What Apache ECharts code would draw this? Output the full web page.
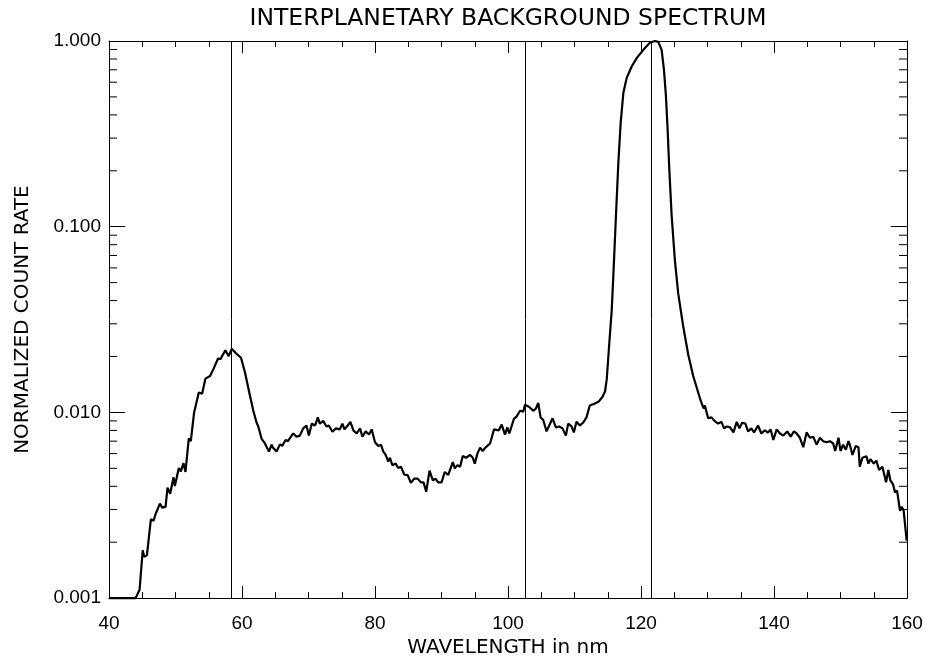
<!DOCTYPE html>
<html>
<head>
<meta charset="utf-8">
<script src="https://cdn.jsdelivr.net/npm/echarts@6/dist/echarts.min.js"></script>
<style>html,body{margin:0;padding:0;background:#fff;}#c{width:934px;height:663px;}</style>
</head>
<body>
<div id="c"></div>
<script>
var wavelength = [40.0,41.0,42.0,43.0,44.0,44.6,45.07,45.3,45.7,46.3,46.7,47.0,47.3,47.65,48.0,48.5,48.8,49.2,49.7,49.9,50.5,50.8,51.2,51.5,52.0,52.3,52.8,53.5,54.0,54.5,55.2,55.7,56.4,56.8,57.0,57.5,58.0,58.45,59.05,59.85,60.45,61.2,61.7,62.2,62.45,62.95,63.35,64.05,64.45,64.6,65.2,65.7,66.05,66.55,66.9,67.7,68.2,68.7,69.2,69.7,70.05,70.5,71.0,71.4,71.7,72.2,72.7,73.05,73.6,74.1,74.7,75.1,75.4,75.9,76.3,76.75,77.25,77.75,78.1,78.6,79.1,79.5,80.0,80.5,80.9,81.25,81.6,82.0,82.25,82.6,83.1,83.5,83.9,84.4,84.9,85.4,85.9,86.4,86.9,87.3,87.7,88.2,88.7,89.1,89.5,90.0,90.5,91.0,91.7,92.0,92.4,92.8,93.2,93.7,94.3,94.7,95.0,95.4,95.8,96.2,96.6,97.3,97.9,98.6,99.05,99.55,99.9,100.2,100.9,101.3,101.8,102.3,102.55,103.2,103.8,104.2,104.55,104.9,105.3,105.8,106.2,106.7,107.2,107.7,108.2,108.7,109.05,109.55,109.9,110.3,110.8,111.3,111.8,112.3,112.9,113.6,114.2,114.6,114.85,115.2,115.6,115.94,116.24,116.6,116.95,117.35,117.85,118.6,119.35,120.35,121.35,122.1,122.6,123.1,123.45,123.75,124.0,124.25,124.6,125.1,125.6,126.35,127.1,127.85,128.6,128.9,129.4,129.6,130.1,130.6,131.05,131.6,132.1,132.5,132.9,133.4,133.9,134.4,134.8,135.2,135.7,136.1,136.6,137.0,137.6,138.1,138.6,139.1,139.5,139.9,140.4,140.9,141.4,142.0,142.5,143.0,143.4,143.9,144.4,144.9,145.4,145.9,146.4,146.9,147.4,147.9,148.4,148.9,149.2,149.7,150.0,150.4,150.8,151.2,151.4,151.8,152.3,152.7,152.9,153.3,153.9,154.2,154.5,155.0,155.4,155.8,156.3,156.85,157.2,157.5,157.9,158.2,158.5,158.95,159.2,159.5,159.95];
var countRate = [0.001,0.001,0.001,0.001,0.001,0.00111,0.00181,0.00167,0.00170,0.00266,0.00261,0.00283,0.00278,0.00323,0.00307,0.00310,0.00393,0.00365,0.00447,0.00401,0.00502,0.00481,0.00533,0.00478,0.00724,0.00701,0.0100,0.0128,0.0126,0.0152,0.0157,0.0171,0.0195,0.0194,0.0201,0.0216,0.0201,0.0220,0.0209,0.0197,0.0164,0.0123,0.0102,0.0088,0.0084,0.0072,0.0069,0.00615,0.0067,0.0065,0.00615,0.00673,0.0066,0.0071,0.0070,0.0077,0.0074,0.0075,0.0082,0.0085,0.0075,0.0087,0.0085,0.0094,0.0087,0.0090,0.0084,0.0085,0.00786,0.0082,0.0081,0.0087,0.0081,0.0085,0.0089,0.0080,0.0077,0.0082,0.0074,0.0079,0.0076,0.0081,0.0069,0.0066,0.0067,0.00615,0.0059,0.00544,0.0057,0.0052,0.0053,0.00502,0.0051,0.00462,0.0046,0.00417,0.0044,0.0044,0.0042,0.0042,0.00374,0.00486,0.0043,0.0044,0.0042,0.0042,0.00478,0.0046,0.0054,0.0050,0.0052,0.0051,0.00583,0.0057,0.0059,0.0057,0.0053,0.0060,0.00646,0.0062,0.00646,0.0068,0.0081,0.0080,0.0086,0.0076,0.0083,0.0077,0.00925,0.0095,0.0102,0.0101,0.0110,0.0107,0.0102,0.0105,0.01126,0.0094,0.0091,0.0079,0.0085,0.0093,0.0083,0.0084,0.0082,0.0075,0.0087,0.0084,0.0078,0.0089,0.0085,0.0088,0.0094,0.0109,0.0111,0.0114,0.0121,0.0130,0.0151,0.0227,0.0356,0.0657,0.116,0.223,0.365,0.527,0.633,0.729,0.809,0.896,0.98,1.0,0.99,0.896,0.701,0.506,0.336,0.206,0.116,0.0657,0.0436,0.029,0.0205,0.0157,0.0128,0.0118,0.0105,0.0109,0.0093,0.0094,0.0090,0.0087,0.0089,0.0082,0.0084,0.0083,0.0078,0.0089,0.0082,0.0088,0.0087,0.0079,0.0082,0.0078,0.0085,0.0077,0.0080,0.0078,0.0081,0.0071,0.0081,0.0077,0.0075,0.0079,0.0074,0.0079,0.0077,0.0073,0.0065,0.0078,0.0073,0.0074,0.0067,0.0073,0.0070,0.0069,0.0070,0.0068,0.0062,0.0073,0.0062,0.0067,0.0063,0.0070,0.0067,0.0059,0.0066,0.0065,0.0051,0.0057,0.0058,0.0053,0.0056,0.0053,0.0055,0.0049,0.0051,0.0042,0.0049,0.0043,0.0041,0.0037,0.0038,0.00295,0.0031,0.00295,0.00204];
var lineMarks = [58.4, 102.6, 121.6];
var xTickValues = [40, 60, 80, 100, 120, 140, 160];
var yTickLabels = ['0.001', '0.010', '0.100', '1.000'];
var yMinorTicks = [0.002,0.003,0.004,0.005,0.006,0.007,0.008,0.009,0.02,0.03,0.04,0.05,0.06,0.07,0.08,0.09,0.2,0.3,0.4,0.5,0.6,0.7,0.8,0.9];
var titleText = 'INTERPLANETARY BACKGROUND SPECTRUM';

var xMin = xTickValues[0], xMax = xTickValues[xTickValues.length - 1];
var FONT = 'Liberation Sans';
var TFONT = 'DejaVu Sans';
var W = 934;
var GRID = {left: 109, right: 27, top: 41, bottom: 58};
var chart = echarts.init(document.getElementById('c'), null, {renderer: 'canvas'});

var lineData = wavelength.map(function (w, i) { return [w, countRate[i]]; });
var axisLine = {show: true, lineStyle: {color: '#000', width: 1}};

var option = {
  backgroundColor: '#fff',
  animation: false,
  graphic: [{
    type: 'text',
    x: GRID.left + (W - GRID.left - GRID.right) / 2,
    y: 7,
    style: {
      text: titleText, fill: '#000', align: 'center', verticalAlign: 'top',
      font: 'normal 23.5px "' + TFONT + '"'
    },
    silent: true
  }],
  grid: {left: GRID.left, right: GRID.right, top: GRID.top, bottom: GRID.bottom, show: false},
  xAxis: [{
    type: 'value', min: xMin, max: xMax, interval: 20,
    position: 'bottom',
    axisLine: axisLine,
    axisTick: {show: true, inside: true, length: 12, lineStyle: {color: '#000'}},
    minorTick: {show: true, splitNumber: 4, length: 6, lineStyle: {color: '#000'}},
    splitLine: {show: false},
    axisLabel: {margin: 16, fontFamily: FONT, fontSize: 19, color: '#000'},
    name: 'WAVELENGTH in nm', nameLocation: 'middle', nameGap: 34,
    nameTextStyle: {fontFamily: TFONT, fontSize: 20, color: '#000'}
  }, {
    type: 'value', min: xMin, max: xMax, interval: 20,
    position: 'top',
    axisLine: axisLine,
    axisTick: {show: true, inside: true, length: 12, lineStyle: {color: '#000'}},
    minorTick: {show: true, splitNumber: 4, length: 6, lineStyle: {color: '#000'}},
    splitLine: {show: false},
    axisLabel: {show: false}
  }],
  yAxis: [{
    type: 'log', logBase: 10, min: 0.001, max: 1,
    position: 'left',
    axisLine: axisLine,
    axisTick: {show: true, inside: true, length: 16, lineStyle: {color: '#000'}},
    minorTick: {show: false},
    splitLine: {show: false},
    axisLabel: {
      margin: 8, fontFamily: FONT, fontSize: 19, color: '#000',
      formatter: function (v) {
        var idx = Math.round(Math.log10(v)) + 3;
        return yTickLabels[idx] !== undefined ? yTickLabels[idx] : v.toFixed(3);
      }
    },
    name: 'NORMALIZED COUNT RATE', nameLocation: 'middle', nameGap: 76,
    nameTextStyle: {fontFamily: TFONT, fontSize: 20, color: '#000'}
  }, {
    type: 'log', logBase: 10, min: 0.001, max: 1,
    position: 'right',
    axisLine: axisLine,
    axisTick: {show: true, inside: true, length: 16, lineStyle: {color: '#000'}},
    minorTick: {show: false},
    splitLine: {show: false},
    axisLabel: {show: false}
  }],
  series: [{
    type: 'line',
    data: lineData,
    xAxisIndex: 0, yAxisIndex: 0,
    showSymbol: false, symbol: 'none',
    lineStyle: {color: '#000', width: 2.2},
    clip: false,
    z: 3,
    markLine: {
      silent: true, symbol: ['none', 'none'],
      label: {show: false},
      lineStyle: {color: '#000', width: 1, type: 'solid'},
      data: lineMarks.map(function (m) { return {xAxis: m}; })
    }
  }, {
    type: 'custom',
    xAxisIndex: 0, yAxisIndex: 0,
    silent: true,
    data: yMinorTicks.map(function (v) { return [xMin, v]; }),
    renderItem: function (params, api) {
      var v = api.value(1);
      var p = api.coord([xMin, v]);
      var q = api.coord([xMax, v]);
      return {
        type: 'group',
        children: [
          {type: 'line', shape: {x1: p[0], y1: p[1], x2: p[0] + 8, y2: p[1]}, style: {stroke: '#000', lineWidth: 1}},
          {type: 'line', shape: {x1: q[0] - 8, y1: q[1], x2: q[0], y2: q[1]}, style: {stroke: '#000', lineWidth: 1}}
        ]
      };
    },
    z: 2
  }]
};
chart.setOption(option);
</script>
</body>
</html>
